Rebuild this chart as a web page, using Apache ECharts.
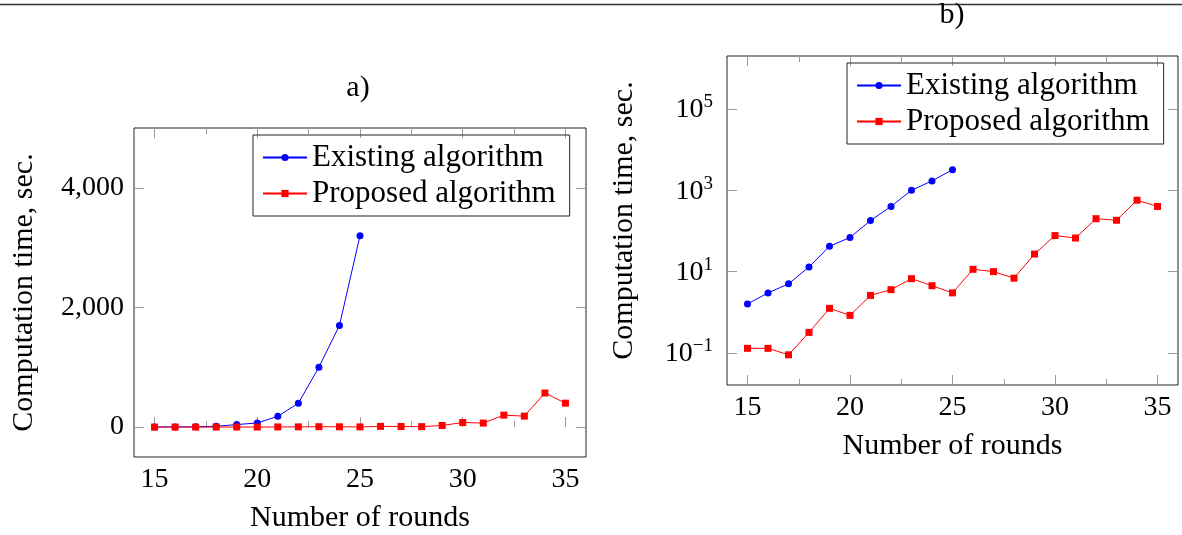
<!DOCTYPE html>
<html>
<head>
<meta charset="utf-8">
<style>
  html, body { margin: 0; padding: 0; background: #fff; }
  #chart { width: 1182px; height: 535px; }
</style>
<script src="https://cdn.jsdelivr.net/npm/echarts@6/dist/echarts.min.js"></script>
</head>
<body>
<div id="chart"></div>
<script>
// data
const rounds = [15, 16, 17, 18, 19, 20, 21, 22, 23, 24, 25, 26, 27, 28, 29, 30, 31, 32, 33, 34, 35];
const existingTime = [1.6, 3.0, 5.0, 13, 42, 69, 180, 400, 1000, 1700, 3200];
const proposedTime = [0.13, 0.13, 0.09, 0.32, 1.25, 0.84, 2.6, 3.6, 6.7, 4.5, 3.0, 11.4, 10, 6.9, 27, 77, 67, 200, 183, 570, 400];
const xTicks = [15, 20, 25, 30, 35];
const xMinorTicks = [17.5, 22.5, 27.5, 32.5];
const linearTicks = [0, 2000, 4000];
const logTicks = [0.1, 10, 1000, 100000];

const font = "Liberation Serif";
const tickColor = "#9a9a9a";

const existingPts = existingTime.map((v, i) => [rounds[i], v]);
const proposedPts = proposedTime.map((v, i) => [rounds[i], v]);

//x axes: bottom major (labels), bottom minor, top major, top minor
function xAxes(gridIndex) {
  const base = {
    type: "value",
    gridIndex: gridIndex,
    min: 14,
    max: 36,
    axisLine: { show: false },
    splitLine: { show: false }
  };
  return [
    Object.assign({}, base, {
      position: "bottom",
      name: "Number of rounds",
      nameLocation: "middle",
      nameGap: 46,
      nameTextStyle: { fontFamily: font, fontSize: 30, color: "#000" },
      axisTick: { inside: true, length: 10, customValues: xTicks, lineStyle: { color: tickColor } },
      axisLabel: {
        customValues: xTicks,
        margin: 9,
        color: "#000",
        textStyle: { fontFamily: font, fontSize: 28 },
        fontFamily: font,
        fontSize: 28
      }
    }),
    Object.assign({}, base, {
      position: "bottom",
      axisTick: { inside: true, length: 6, customValues: xMinorTicks, lineStyle: { color: tickColor } },
      axisLabel: { show: false }
    }),
    Object.assign({}, base, {
      position: "top",
      axisTick: { inside: true, length: 10, customValues: xTicks, lineStyle: { color: tickColor } },
      axisLabel: { show: false }
    }),
    Object.assign({}, base, {
      position: "top",
      axisTick: { inside: true, length: 6, customValues: xMinorTicks, lineStyle: { color: tickColor } },
      axisLabel: { show: false }
    })
  ];
}

const yName = {
  name: "Computation time, sec.",
  nameLocation: "middle",
  nameRotate: 90,
  nameTextStyle: { fontFamily: font, fontSize: 30, color: "#000" }
};

const linearY = {
  type: "value",
  gridIndex: 0,
  min: -500,
  max: 5000,
  axisLine: { show: false },
  splitLine: { show: false }
};
const logY = {
  type: "log",
  logBase: 10,
  gridIndex: 1,
  min: 0.0163,
  max: 2000000,
  axisLine: { show: false },
  splitLine: { show: false },
  minorTick: { show: false }
};

const yAxes = [
  Object.assign({}, linearY, yName, {
    position: "left",
    nameGap: 95,
    axisTick: { inside: true, length: 10, customValues: linearTicks, lineStyle: { color: tickColor } },
    axisLabel: {
      customValues: linearTicks,
      margin: 10,
      fontFamily: font,
      fontSize: 28,
      color: "#000",
      formatter: v => Number(v).toLocaleString("en-US")
    }
  }),
  Object.assign({}, linearY, {
    position: "right",
    axisTick: { inside: true, length: 10, customValues: linearTicks, lineStyle: { color: tickColor } },
    axisLabel: { show: false }
  }),
  Object.assign({}, logY, yName, {
    position: "left",
    nameGap: 88,
    axisTick: { inside: true, length: 10, customValues: logTicks, lineStyle: { color: tickColor } },
    axisLabel: {
      customValues: logTicks,
      margin: 14,
      fontFamily: font,
      color: "#000",
      formatter: v => {
        const e = Math.round(Math.log10(v));
        return "{b|10}{s|" + (e < 0 ? "\u2212" + (-e) : e) + "}";
      },
      rich: {
        b: { fontFamily: font, fontSize: 28, color: "#000", lineHeight: 30, verticalAlign: "bottom" },
        s: { fontFamily: font, fontSize: 19, color: "#000", lineHeight: 19, padding: [0, 0, 12, 0], verticalAlign: "bottom" }
      }
    }
  }),
  Object.assign({}, logY, {
    position: "right",
    axisTick: { inside: true, length: 10, customValues: logTicks, lineStyle: { color: tickColor } },
    axisLabel: { show: false }
  })
];

function lineSeries(name, data, color, symbol, idx) {
  return {
    name: name,
    type: "line",
    xAxisIndex: idx * 4,
    yAxisIndex: idx * 2,
    data: data,
    symbol: symbol,
    symbolSize: 7,
    showAllSymbol: true,
    lineStyle: { color: color, width: 1 },
    itemStyle: { color: color },
    emphasis: { disabled: true },
    animation: false
  };
}

function legendAt(left, top) {
  return {
    orient: "vertical",
    left: left,
    top: top,
    data: ["Existing algorithm", "Proposed algorithm"],
    itemWidth: 44,
    itemHeight: 9,
    itemGap: 5,
    padding: [7, 14, 7, 9],
    borderColor: "#222",
    borderWidth: 1,
    selectedMode: false,
    textStyle: { fontFamily: font, fontSize: 31, color: "#000" }
  };
}

const myChart = echarts.init(document.getElementById("chart"));
myChart.setOption({
  animation: false,
  textStyle: { fontFamily: font, color: "#000" },
  grid: [
    { left: 134, top: 128, width: 452, height: 329, show: true, borderColor: "#222", borderWidth: 1, outerBoundsMode: "none" },
    { left: 727, top: 56, width: 451, height: 329, show: true, borderColor: "#222", borderWidth: 1, outerBoundsMode: "none" }
  ],
  xAxis: xAxes(0).concat(xAxes(1)),
  yAxis: yAxes,
  legend: [legendAt(253, 135), legendAt(847, 63)],
  graphic: [
    { type: "line", shape: { x1: 0, y1: 4.5, x2: 1182, y2: 4.5 }, style: { stroke: "#333", lineWidth: 1.5 } },
    { type: "text", x: 358, y: 88, style: { text: "a)", font: "30px " + font, fill: "#000", align: "center", verticalAlign: "middle" } },
    { type: "text", x: 952, y: 15, style: { text: "b)", font: "30px " + font, fill: "#000", align: "center", verticalAlign: "middle" } }
  ],
  series: [
    lineSeries("Existing algorithm", existingPts, "#0000ff", "circle", 0),
    lineSeries("Proposed algorithm", proposedPts, "#ff0000", "rect", 0),
    lineSeries("Existing algorithm", existingPts, "#0000ff", "circle", 1),
    lineSeries("Proposed algorithm", proposedPts, "#ff0000", "rect", 1)
  ]
});
window.addEventListener("resize", () => {
  myChart.resize();
});
</script>
</body>
</html>
